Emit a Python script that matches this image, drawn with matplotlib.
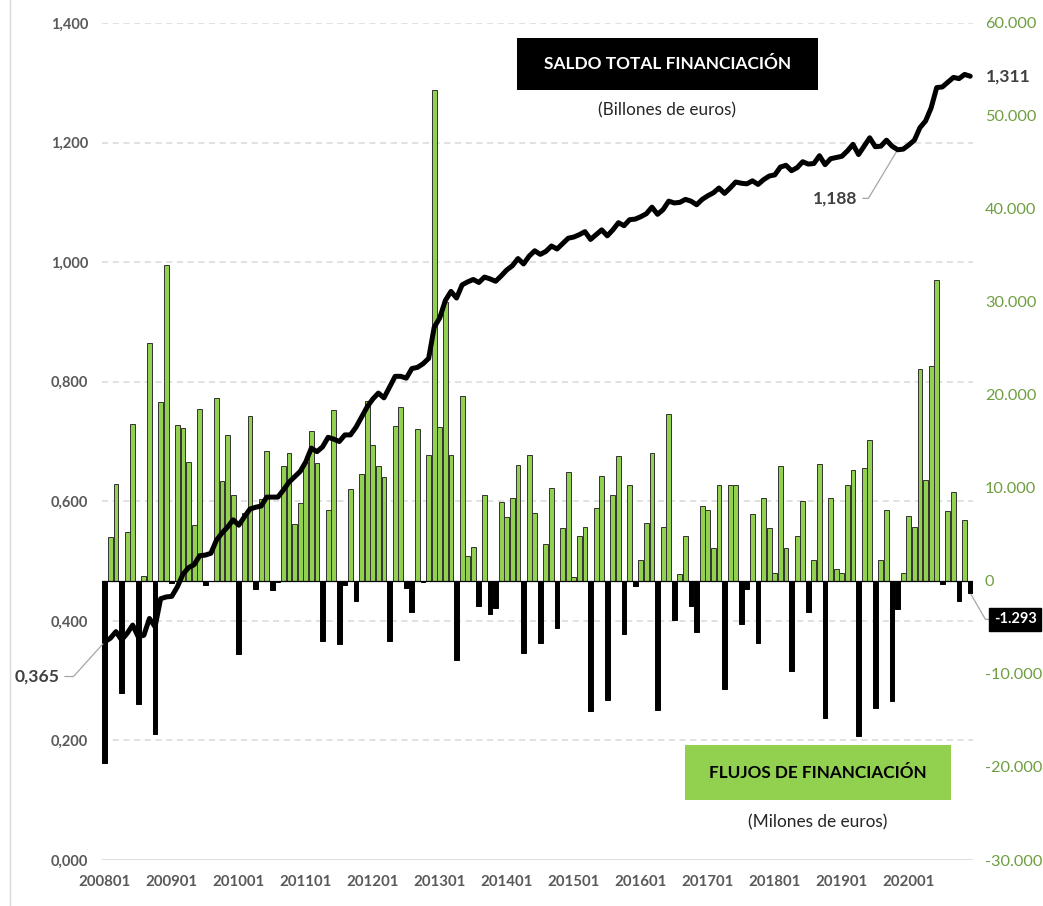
import numpy as np
import matplotlib
matplotlib.use("Agg")
import matplotlib.pyplot as plt
from matplotlib.patches import Rectangle
from matplotlib.lines import Line2D
import matplotlib.transforms as mtransforms
from matplotlib.ticker import FixedLocator, FuncFormatter

plt.rcParams['font.family'] = ['Lato', 'DejaVu Sans']

# ---------------- data ----------------
tick_labels = ["200801", "200901", "201001", "201101", "201201", "201301", "201401",
               "201501", "201601", "201701", "201801", "201901", "202001"]

# monthly financing flows (millions of euros), 200801 .. 202012
flujos = [
    -19600, 4700, 10400, -12000, 5300, 16900, -13200, 500, 25600, -16400, 19200, 34000,
    -200, 16800, 16400, 12800, 6000, 18500, -400, 0, 19700, 10800, 15700, 9200,
    -7900, 7300, 17700, -900, 8800, 14000, -1000, -150, 12400, 13800, 6100, 8400,
    12800, 16100, 12700, -6500, 7600, 18400, -6800, -400, 9900, -2100, 11500, 19400,
    14600, 12400, 11200, -6400, 16700, 18700, -800, -3300, 16300, -100, 13500, 52800,
    16600, 30000, 13500, -8500, 19900, 2700, 3700, -2700, 9300, -3600, -2900, 8500,
    6900, 8900, 12500, -7700, 13600, 7300, -6700, 4000, 10000, -5100, 5700, 11700,
    400, 4800, 5800, -14000, 7800, 11300, -12800, 9200, 13400, -5700, 10300, -500,
    2300, 6200, 13800, -13900, 5800, 18000, -4200, 700, 4800, -2700, -5500, 8100,
    7600, 3500, 10300, -11600, 10300, 10300, -4600, -900, 7200, -6700, 8900, 5700,
    900, 12400, 3600, -9700, 4800, 8600, -3300, 2300, 12600, -14700, 8900, 1300,
    900, 10300, 11900, -16700, 12200, 15200, -13700, 2300, 7600, -12900, -3000, 900,
    7000, 5800, 22800, 10900, 23100, 32400, -300, 7500, 9600, -2100, 6600, -1293,
]

# total financing balance (trillions of euros)
saldo = [
    0.365, 0.371, 0.382, 0.368, 0.379, 0.393, 0.373, 0.376, 0.404, 0.390, 0.437, 0.440,
    0.441, 0.457, 0.478, 0.489, 0.494, 0.509, 0.510, 0.513, 0.535, 0.547, 0.557, 0.569,
    0.560, 0.574, 0.587, 0.590, 0.592, 0.607, 0.607, 0.607, 0.619, 0.632, 0.641, 0.650,
    0.666, 0.689, 0.683, 0.691, 0.707, 0.704, 0.700, 0.711, 0.711, 0.724, 0.741, 0.758,
    0.771, 0.781, 0.773, 0.791, 0.809, 0.809, 0.806, 0.822, 0.824, 0.830, 0.839, 0.891,
    0.907, 0.936, 0.951, 0.940, 0.962, 0.967, 0.971, 0.966, 0.975, 0.972, 0.968, 0.977,
    0.987, 0.994, 1.006, 0.997, 1.010, 1.019, 1.013, 1.018, 1.027, 1.022, 1.031, 1.040,
    1.042, 1.046, 1.051, 1.038, 1.046, 1.054, 1.044, 1.054, 1.066, 1.061, 1.071, 1.072,
    1.076, 1.081, 1.092, 1.080, 1.088, 1.102, 1.099, 1.100, 1.105, 1.102, 1.096, 1.105,
    1.111, 1.116, 1.124, 1.115, 1.124, 1.134, 1.132, 1.131, 1.136, 1.130, 1.138, 1.144,
    1.146, 1.159, 1.162, 1.153, 1.158, 1.168, 1.164, 1.165, 1.178, 1.163, 1.173, 1.175,
    1.177, 1.186, 1.197, 1.180, 1.194, 1.208, 1.193, 1.194, 1.204, 1.194, 1.188, 1.189,
    1.196, 1.204, 1.225, 1.236, 1.258, 1.292, 1.293, 1.301, 1.309, 1.307, 1.314, 1.311,
]

left_ticks = [0.0, 0.2, 0.4, 0.6, 0.8, 1.0, 1.2, 1.4]
right_ticks = [-30000, -20000, -10000, 0, 10000, 20000, 30000, 40000, 50000, 60000]

# ---------------- styling ----------------
GREEN = '#92D050'
GRAY_TXT = '#595959'
GREEN_TXT = '#6E9E3F'
GRID = '#D9D9D9'

W, H = 1043, 906
fig = plt.figure(figsize=(W / 100, H / 100), dpi=100)


def fx(px):
    return px / W


def fy(py):
    return 1 - py / H


n = len(flujos)
x = np.arange(n)

ax_bar = fig.add_axes([fx(102), fy(860), fx(973) - fx(102), fy(23) - fy(860)])
ax_line = ax_bar.twinx()

ax_bar.set_xlim(-0.5, n - 0.5)
ax_bar.set_ylim(-30000, 60000)
ax_line.set_ylim(0, 1.4)

# gridlines (left axis values), drawn behind the bars
blend = mtransforms.blended_transform_factory(ax_bar.transAxes, ax_line.transData)
for v in left_ticks[1:]:
    ax_bar.add_line(Line2D([0, 1], [v, v], transform=blend, color=GRID, lw=1.1,
                           dashes=(4, 3), zorder=0))
ax_bar.add_line(Line2D([0, 1], [0, 0], transform=blend, color=GRID, lw=1.2, zorder=0))

# bars
colors = [GREEN if v >= 0 else 'black' for v in flujos]
edges = ['#333333' if v >= 0 else 'black' for v in flujos]
ax_bar.bar(x, flujos, width=0.86, color=colors, edgecolor=edges, linewidth=0.7, zorder=3)
ax_bar.axhline(0, color='black', lw=0.9, zorder=4)

# line
ax_line.plot(x, saldo, color='black', lw=3.6, solid_joinstyle='round',
             solid_capstyle='round', zorder=5)

# axes formatting
for a in (ax_bar, ax_line):
    for s in a.spines.values():
        s.set_visible(False)

ax_line.yaxis.set_ticks_position('left')
ax_bar.yaxis.set_ticks_position('right')

ax_line.yaxis.set_major_locator(FixedLocator(left_ticks))
ax_line.yaxis.set_major_formatter(FuncFormatter(lambda v, p: f"{v:.3f}".replace('.', ',')))
ax_line.tick_params(axis='y', length=0, pad=10, labelsize=10.5, labelcolor=GRAY_TXT)
for t in ax_line.get_yticklabels():
    t.set_fontweight('bold')

ax_bar.yaxis.set_major_locator(FixedLocator(right_ticks))
ax_bar.yaxis.set_major_formatter(
    FuncFormatter(lambda v, p: f"{int(v):,}".replace(',', '.')))
ax_bar.tick_params(axis='y', length=0, pad=8.5, labelsize=11.7, labelcolor=GREEN_TXT)

ax_bar.set_xticks(np.arange(0, n, 12)[:len(tick_labels)])
ax_bar.set_xticklabels(tick_labels, fontweight='bold')
ax_bar.tick_params(axis='x', length=0, pad=11, labelsize=10.8, labelcolor=GRAY_TXT)
ax_line.tick_params(axis='x', length=0)

# annotations
ax_line.annotate("1,311", xy=(n - 1, saldo[-1]), xytext=(11.5, 0), textcoords='offset points',
                 ha='left', va='center', fontsize=12.6, fontweight='bold', color='#404040')

i_min = 142
ax_line.annotate(f"{saldo[i_min]:.3f}".replace('.', ','), xy=(i_min, saldo[i_min]),
                 xytext=(-45, -35), textcoords='offset points', ha='center', va='center',
                 fontsize=12.6, fontweight='bold', color='#404040',
                 arrowprops=dict(arrowstyle='-', color='#A6A6A6', lw=0.9, shrinkA=2, shrinkB=1,
                                 connectionstyle='angle,angleA=0,angleB=59,rad=0'))

ax_line.annotate(f"{saldo[0]:.3f}".replace('.', ','), xy=(0, saldo[0]),
                 xytext=(-49, -25), textcoords='offset points', ha='center', va='center',
                 fontsize=12.6, fontweight='bold', color='#404040',
                 arrowprops=dict(arrowstyle='-', color='#A6A6A6', lw=0.9, shrinkA=2, shrinkB=1,
                                 connectionstyle='angle,angleA=0,angleB=48,rad=0'))

last = flujos[-1]
ax_bar.annotate(f"{last:,}".replace(',', '.'), xy=(n - 1, last),
                xytext=(17, -19), textcoords='offset points', ha='left', va='center',
                fontsize=10.5, fontweight='bold', color='white',
                bbox=dict(boxstyle='square,pad=0.3', fc='black', ec='black'),
                arrowprops=dict(arrowstyle='-', color='#A6A6A6', lw=0.9, shrinkA=0, shrinkB=1,
                                connectionstyle='angle,angleA=0,angleB=-60,rad=0'))

# title boxes
fig.patches.append(Rectangle((fx(517), fy(90)), fx(818) - fx(517), fy(38) - fy(90),
                             transform=fig.transFigure, fc='black', ec='none', zorder=10))
fig.text(fx(667.5), fy(64), "SALDO TOTAL FINANCIACIÓN", ha='center', va='center',
         color='white', fontsize=12.4, fontweight='bold', zorder=11)
fig.text(fx(667.5), fy(110), "(Billones de euros)", ha='center', va='center',
         color='#262626', fontsize=12.3)

fig.patches.append(Rectangle((fx(685), fy(800)), fx(951) - fx(685), fy(745) - fy(800),
                             transform=fig.transFigure, fc=GREEN, ec='none', zorder=10))
fig.text(fx(818), fy(773), "FLUJOS DE FINANCIACIÓN", ha='center', va='center',
         color='black', fontsize=12.3, fontweight='bold', zorder=11)
fig.text(fx(818), fy(822), "(Milones de euros)", ha='center', va='center',
         color='#262626', fontsize=12.4)

# chart border (left)
fig.add_artist(Line2D([fx(10), fx(10)], [0, 1], transform=fig.transFigure,
                      color='#D9D9D9', lw=1))

fig.savefig("out.png", dpi=100)
